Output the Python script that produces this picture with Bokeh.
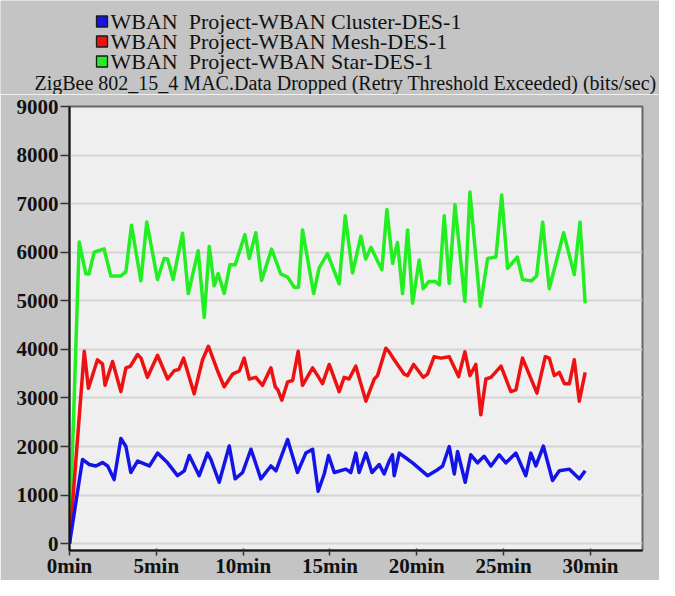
from bokeh.plotting import figure
from bokeh.models import Range1d, FixedTicker
from bokeh.layouts import column
from bokeh.core.properties import value
from bokeh.embed import file_html
from bokeh.resources import INLINE

# ---------------- data (minutes, bits/sec) ----------------
star_t = [0, 0.56, 0.94, 1.12, 1.42, 1.99, 2.38, 2.96, 3.25, 3.57, 4.11, 4.45, 5.07, 5.45, 5.65, 5.97,
          6.51, 6.84, 7.41, 7.76, 8.05, 8.33, 8.56, 8.91, 9.24, 9.54, 10.1, 10.35, 10.73, 11.06, 11.64,
          12.17, 12.56, 12.94, 13.19, 13.42, 14.06, 14.38, 14.86, 15.53, 15.88, 16.3, 16.78, 17.06,
          17.36, 17.99, 18.28, 18.61, 18.89, 19.18, 19.47, 19.76, 20.14, 20.37, 20.7, 21.05, 21.3,
          21.58, 21.87, 22.2, 22.77, 23.06, 23.66, 24.08, 24.56, 24.89, 25.23, 25.79, 26.09, 26.6,
          26.9, 27.25, 27.63, 28.46, 29.07, 29.4, 29.7]
star_v = [0, 6210, 5555, 5550, 6000, 6070, 5510, 5510, 5600, 6555, 5410, 6620, 5440, 5870, 5860, 5440,
          6390, 5150, 6030, 4660, 6120, 5310, 5560, 5150, 5740, 5740, 6360, 5870, 6400, 5420, 6065,
          5550, 5490, 5280, 5280, 6460, 5150, 5680, 5970, 5350, 6750, 5575, 6330, 5860,
          6100, 5640, 6880, 5770, 6200, 5150, 6460, 4950, 5840, 5250, 5400, 5400, 5330,
          6750, 5360, 6980, 4990, 7240, 4890, 5870, 5900, 7180, 5670, 5900, 5440, 5410,
          5510, 6620, 5250, 6400, 5540, 6620, 4950]

mesh_t = [0, 0.85, 1.09, 1.61, 1.9, 2.05, 2.48, 2.96, 3.25, 3.5, 3.92, 4.12, 4.49, 5.07, 5.65, 6.03,
          6.3, 6.57, 7.18, 7.66, 8.0, 8.53, 8.91, 9.39, 9.78, 10.06, 10.35, 10.73, 11.12, 11.6, 11.85,
          12.0, 12.23, 12.56, 12.85, 13.17, 13.42, 14.0, 14.29, 14.57, 14.96, 15.53, 15.82, 16.1,
          16.49, 17.07, 17.55, 17.74, 18.22, 18.41, 18.7, 19.28, 19.47, 19.82, 20.37, 20.62, 21.0,
          21.39, 21.87, 22.41, 22.77, 23.06, 23.4, 23.69, 23.98, 24.27, 24.85, 25.42, 25.71, 26.09,
          26.92, 27.4, 27.63, 27.92, 28.21, 28.5, 28.79, 29.07, 29.36, 29.7]
mesh_v = [0, 3960, 3200, 3785, 3700, 3260, 3750, 3130, 3620, 3650, 3895, 3820, 3425, 3880, 3390, 3560,
          3590, 3820, 3085, 3785, 4065, 3555, 3230, 3490, 3555, 3820, 3390, 3425, 3260, 3620, 3230,
          3165, 2955, 3330, 3360, 3960, 3260, 3620, 3460, 3295, 3690, 3130, 3425, 3390,
          3655, 2935, 3390, 3460, 4025, 3950, 3785, 3490, 3460, 3690, 3425, 3490, 3850,
          3820, 3850, 3440, 3950, 3460, 3690, 2655, 3390, 3425, 3655, 3130, 3165, 3820,
          3100, 3850, 3820, 3460, 3525, 3295, 3295, 3785, 2935, 3525]

cluster_t = [0, 0.75, 1.14, 1.52, 1.9, 2.2, 2.57, 2.96, 3.25, 3.53, 3.92, 4.6, 5.07, 5.65, 6.22, 6.61,
             6.9, 7.47, 7.95, 8.14, 8.62, 9.2, 9.54, 9.97, 10.45, 11.02, 11.6, 11.89, 12.56, 13.13,
             13.61, 14.0, 14.32, 14.67, 14.92, 15.25, 15.92, 16.2, 16.49, 16.68, 17.07, 17.42, 17.84,
             18.12, 18.41, 18.6, 18.7, 18.99, 19.38, 19.76, 20.62, 21.1, 21.49, 21.87, 22.16, 22.35,
             22.79, 23.11, 23.5, 23.88, 24.27, 24.75, 25.13, 25.71, 26.28, 26.57, 26.86, 27.29, 27.82,
             28.21, 28.79, 29.36, 29.7]
cluster_v = [0, 1735, 1630, 1600, 1670, 1600, 1320, 2165, 2000, 1465, 1700, 1600, 1865, 1665, 1400, 1500,
             1815, 1400, 1865, 1735, 1265, 2010, 1335, 1465, 1945, 1335, 1600, 1500, 2145, 1465,
             1865, 1945, 1080, 1435, 1815, 1465, 1535, 1465, 1865, 1465, 1865, 1465, 1630,
             1435, 1700, 1830, 1400, 1865, 1765, 1665, 1400, 1500, 1600, 2000, 1435, 1900,
             1265, 1830, 1665, 1800, 1600, 1830, 1665, 1865, 1400, 1865, 1600, 2010, 1300,
             1500, 1535, 1335, 1500]

series_names = ["WBAN\u00a0 Project-WBAN Cluster-DES-1",
                "WBAN\u00a0 Project-WBAN Mesh-DES-1",
                "WBAN\u00a0 Project-WBAN Star-DES-1"]
series_colors = ["#1414e6", "#ee1111", "#22ee22"]
title_text = "ZigBee 802_15_4 MAC.Data Dropped (Retry Threshold Exceeded) (bits/sec)"
y_ticks = [0, 1000, 2000, 3000, 4000, 5000, 6000, 7000, 8000, 9000]
x_ticks = [0, 5, 10, 15, 20, 25, 30]
x_tick_labels = ["0min", "5min", "10min", "15min", "20min", "25min", "30min"]

SERIF = "Liberation Serif"
BG = "#c4c4c4"
W = 659
HEAD_H = 94

# ---------------- header: legend + title (pixel-space figure) ----------------
head = figure(width=W, height=HEAD_H, x_range=Range1d(0, W), y_range=Range1d(HEAD_H, 0),
              output_backend="svg", toolbar_location=None, title=None,
              x_axis_location=None, y_axis_location=None,
              min_border_left=0, min_border_right=0, min_border_top=0, min_border_bottom=0)
head.frame_align = False
head.background_fill_color = BG
head.border_fill_color = BG
head.outline_line_color = None
head.grid.visible = False
leg_x0, leg_y0, leg_dy = 101.5, 21, 20
leg_y = [leg_y0 + i * leg_dy for i in range(len(series_names))]
head.scatter([leg_x0] * 3, leg_y, marker="square", size=11, fill_color=series_colors,
             line_color="#1a1a1a", line_width=1.3)
head.text([leg_x0 + 8.5] * 3, leg_y, text=series_names, text_font=value(SERIF),
          text_font_size="22px", text_color="#111111", text_baseline="middle")
head.text([34], [82.5], text=[title_text], text_font=value(SERIF),
          text_font_size="20px", text_color="#111111", text_baseline="middle")

# ---------------- main plot ----------------
p = figure(width=W, height=580 - HEAD_H, x_range=Range1d(0, 33.0), y_range=Range1d(-140, 9000),
           output_backend="svg", toolbar_location=None, title=None,
           min_border_left=69, min_border_right=17, min_border_top=12, min_border_bottom=20)
p.frame_align = False
p.background_fill_color = "#efefef"
p.border_fill_color = BG
p.outline_line_color = "#666666"
p.outline_line_width = 2

p.yaxis.ticker = FixedTicker(ticks=y_ticks)
p.xaxis.ticker = FixedTicker(ticks=x_ticks)
p.xaxis.major_label_overrides = {t: s for t, s in zip(x_ticks, x_tick_labels)}
for ax in (p.xaxis[0], p.yaxis[0]):
    ax.axis_line_color = "#111111"
    ax.axis_line_width = 2
    ax.major_tick_line_color = "#333333"
    ax.major_tick_line_width = 1.5
    ax.minor_tick_line_color = None
    ax.major_label_text_font = SERIF
    ax.major_label_text_font_style = "bold"
    ax.major_label_text_font_size = "21px"
    ax.major_label_text_color = "#111111"
p.yaxis.major_tick_out = 9
p.yaxis.major_tick_in = 0
p.yaxis.major_label_standoff = 2
p.xaxis.major_tick_out = 5
p.xaxis.major_tick_in = 2
p.xaxis.major_label_standoff = -2

p.xgrid.visible = False
p.ygrid.ticker = FixedTicker(ticks=y_ticks)
p.ygrid.grid_line_color = "#d4d4d4"
p.ygrid.grid_line_width = 2

p.line(star_t, star_v, line_color=series_colors[2], line_width=3.5, line_join="round")
p.line(mesh_t, mesh_v, line_color=series_colors[1], line_width=3.5, line_join="round")
p.line(cluster_t, cluster_v, line_color=series_colors[0], line_width=3.5, line_join="round")

layout = column(head, p, spacing=0)
open("out.html", "w").write(file_html(layout, INLINE))
